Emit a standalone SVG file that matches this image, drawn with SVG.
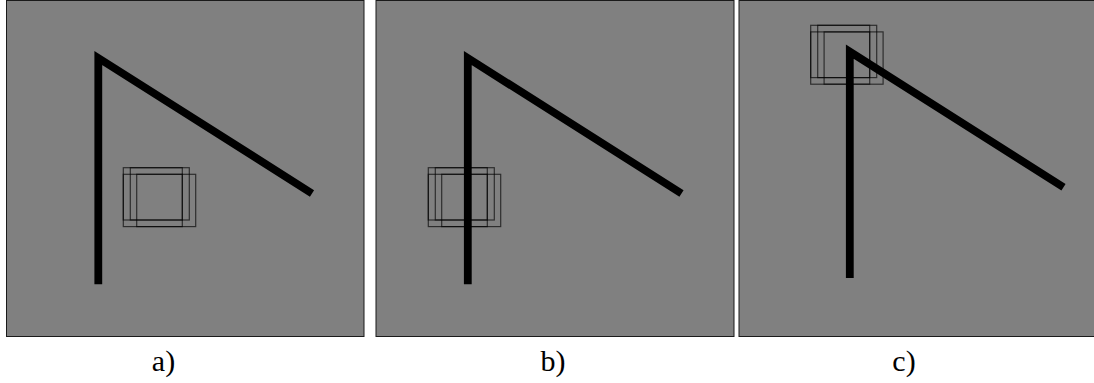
<svg xmlns="http://www.w3.org/2000/svg" xmlns:xlink="http://www.w3.org/1999/xlink" width="1094" height="383" viewBox="0 0 1094 383">
<style>
.panel{fill:#808080;stroke:#1a1a1a;stroke-width:1}
.stick{fill:none;stroke:#000;stroke-width:7.8;stroke-linejoin:miter;stroke-linecap:butt}
.box{fill:none;stroke:#000;stroke-opacity:0.65;stroke-width:1.2}
.lbl{font-family:"Liberation Serif","Times New Roman",serif;font-size:30px;fill:#000;text-anchor:middle}
</style>
<defs>
<g id="blur">
<rect class="box" x="0" y="0" width="59" height="52.3"/>
<rect class="box" x="7" y="0" width="59" height="52.3"/>
<rect class="box" x="13.4" y="6.6" width="59" height="52.3"/>
<rect class="box" x="0" y="6.6" width="59" height="52.3"/>
</g>
<path id="shape" d="M98.3,284.3 V58 L312,193.5"/>
</defs>
<g id="panel-a">
<rect class="panel" x="6.5" y="0.5" width="357.5" height="336"/>
<use xlink:href="#shape" class="stick"/>
<use xlink:href="#blur" x="123.3" y="167.7"/>
<text class="lbl" x="163.5" y="371">a)</text>
</g>
<g id="panel-b">
<rect class="panel" x="376" y="0.5" width="358" height="336"/>
<use xlink:href="#shape" class="stick" x="369.5" y="0"/>
<use xlink:href="#blur" x="428.3" y="167.7"/>
<text class="lbl" x="553" y="371">b)</text>
</g>
<g id="panel-c">
<rect class="panel" x="739" y="0.5" width="358" height="336"/>
<use xlink:href="#shape" class="stick" x="751.5" y="-6.3"/>
<use xlink:href="#blur" x="810.7" y="25.3"/>
<text class="lbl" x="904" y="371">c)</text>
</g>
<g id="connectors"></g>
</svg>
